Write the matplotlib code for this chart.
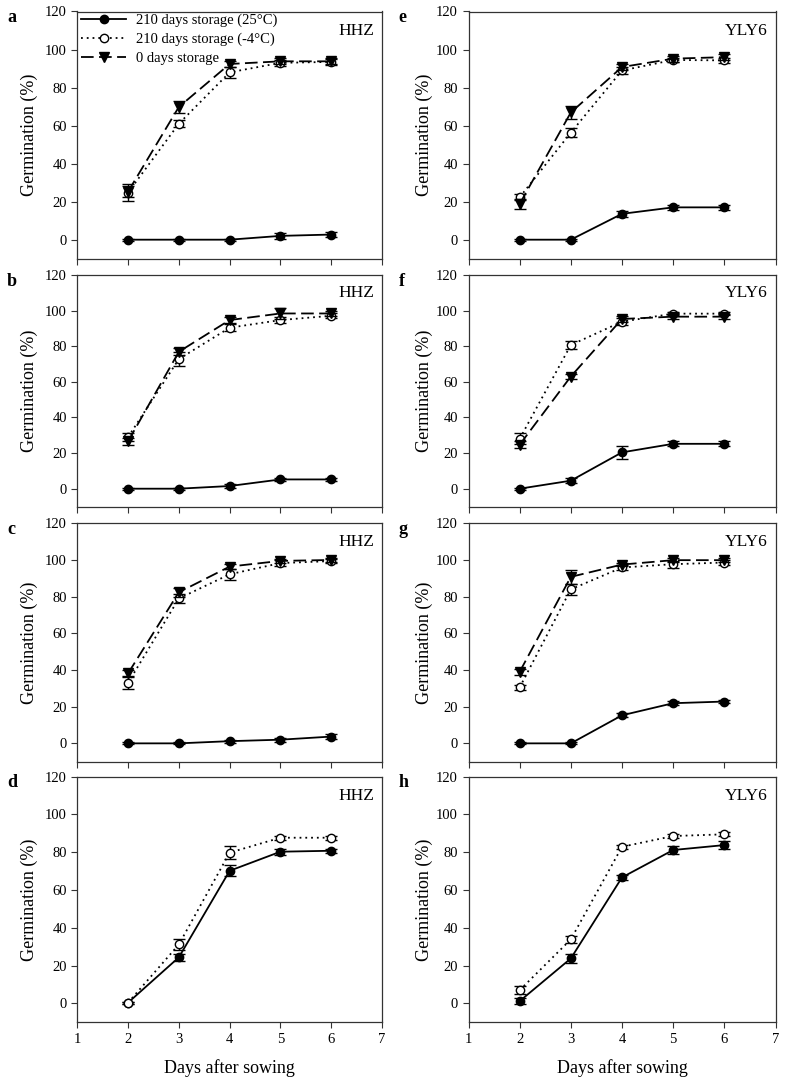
import matplotlib
matplotlib.use('Agg')
import matplotlib.pyplot as plt
from matplotlib.lines import Line2D

plt.rcParams['font.family'] = ['Liberation Serif', 'DejaVu Serif']

days = [2, 3, 4, 5, 6]
x_ticks = [1, 2, 3, 4, 5, 6, 7]
y_ticks = [0, 20, 40, 60, 80, 100, 120]
series_labels = ['210 days storage (25°C)', '210 days storage (-4°C)', '0 days storage']
panel_letters = ['a', 'b', 'c', 'd', 'e', 'f', 'g', 'h']
cultivars = ['HHZ', 'HHZ', 'HHZ', 'HHZ', 'YLY6', 'YLY6', 'YLY6', 'YLY6']

# 210 days storage (25°C)
s25 = {
    'a': [0, 0, 0, 2.0, 2.7], 'b': [0, 0, 1.5, 5.2, 5.2],
    'c': [0, 0, 1.2, 2.0, 3.7], 'd': [0.4, 24.4, 70.2, 80.3, 80.8],
    'e': [0, 0, 13.6, 17.0, 17.0], 'f': [0, 4.5, 20.4, 25.2, 25.2],
    'g': [0, 0, 15.3, 21.9, 22.8], 'h': [1.2, 23.8, 66.7, 81.2, 83.8],
}
s25_err = {
    'a': [0.5, 0.5, 0.5, 1.5, 1.2], 'b': [0.5, 0.5, 1.0, 1.0, 1.0],
    'c': [0.5, 0.5, 0.8, 1.0, 1.5], 'd': [0.5, 2.0, 3.0, 1.5, 1.0],
    'e': [0.5, 0.5, 1.5, 1.5, 1.5], 'f': [0.5, 1.5, 3.5, 1.5, 1.5],
    'g': [0.5, 0.5, 1.0, 1.0, 1.0], 'h': [1.5, 2.5, 1.5, 2.0, 2.0],
}
# 210 days storage (-4°C)
sm4 = {
    'a': [24.8, 61.0, 88.0, 93.0, 93.5], 'b': [29.0, 72.8, 90.4, 94.7, 97.1],
    'c': [33.0, 79.0, 92.2, 98.3, 99.4], 'd': [0.4, 31.2, 79.8, 87.7, 87.7],
    'e': [22.3, 56.3, 89.0, 94.5, 94.3], 'f': [28.0, 80.7, 93.8, 98.3, 98.3],
    'g': [30.5, 84.0, 95.9, 97.7, 98.6], 'h': [7.0, 33.9, 82.9, 88.6, 89.5],
}
sm4_err = {
    'a': [4.5, 2.0, 3.0, 1.5, 1.5], 'b': [2.0, 4.0, 2.0, 1.5, 1.5],
    'c': [3.5, 2.5, 3.0, 1.5, 1.0], 'd': [0.5, 3.0, 3.5, 1.0, 1.0],
    'e': [1.5, 2.5, 2.0, 1.0, 1.5], 'f': [3.0, 2.5, 2.0, 1.0, 1.0],
    'g': [1.5, 3.0, 1.5, 2.0, 1.5], 'h': [2.0, 2.0, 1.0, 1.0, 1.0],
}
# 0 days storage (not measured in d, h)
d0 = {
    'a': [25.3, 69.8, 92.4, 93.8, 93.8], 'b': [26.6, 76.9, 94.7, 98.4, 98.4],
    'c': [38.2, 82.4, 96.4, 99.5, 100.0],
    'e': [18.8, 66.9, 90.8, 95.2, 96.0], 'f': [24.7, 63.0, 95.3, 96.6, 96.6],
    'g': [39.0, 90.8, 97.5, 99.9, 99.9],
}
d0_err = {
    'a': [3.0, 3.0, 1.5, 1.5, 1.5], 'b': [2.0, 2.0, 1.5, 3.0, 1.5],
    'c': [2.0, 2.5, 1.5, 1.0, 1.0],
    'e': [2.5, 3.5, 1.5, 1.5, 1.5], 'f': [2.0, 1.5, 1.5, 1.5, 1.5],
    'g': [1.5, 4.0, 1.0, 1.0, 1.0],
}

W, H = 785, 1085
fig = plt.figure(figsize=(W / 100, H / 100), dpi=100)

col_x = [(77.3, 382.0), (468.5, 775.5)]
row_y = [(11.5, 258.7), (275.0, 506.5), (523.3, 761.7), (776.7, 1022.3)]

styles = [
    dict(ls='-', marker='o', ms=6, mfc='black'),
    dict(ls=(0, (1, 2.2)), marker='o', ms=6, mfc='white'),
    dict(ls=(0, (7, 3)), marker='v', ms=7, mfc='black'),
]

spine_col = '#333333'
for i, L in enumerate(panel_letters):
    c = i // 4
    r = i % 4
    x0, x1 = col_x[c]
    yt, yb = row_y[r]
    ax = fig.add_axes([x0 / W, 1 - yb / H, (x1 - x0) / W, (yb - yt) / H])

    data = [(s25[L], s25_err[L]), (sm4[L], sm4_err[L])]
    if L in d0:
        data.append((d0[L], d0_err[L]))
    for k, (vals, errs) in enumerate(data):
        ax.errorbar(days, vals, yerr=errs, color='black', lw=1.3, mec='black',
                    capsize=4.5, elinewidth=1.0, capthick=1.0,
                    zorder=3 + k, **styles[k])

    ax.set_xlim(1, 7)
    ax.set_ylim(-10, 120)
    ax.set_xticks(x_ticks)
    ax.set_yticks(y_ticks)
    ax.tick_params(direction='out', length=4.5, width=0.8, color=spine_col,
                   labelsize=10.5, pad=3, top=False, right=False)
    if r < 3:
        ax.set_xticklabels([])
    for s in ax.spines.values():
        s.set_color(spine_col)
        s.set_linewidth(0.9)

    ax.text(0.975, 0.955, cultivars[i], transform=ax.transAxes,
            ha='right', va='top', fontsize=12.5)

    # panel letter
    fig.text((7 if c == 0 else 398.5) / W, 1 - (yt + 10.5) / H, L,
             ha='left', va='baseline', fontsize=13, fontweight='bold')
    # y label
    fig.text((29 if c == 0 else 424) / W, 1 - (yt + yb) / 2 / H, 'Germination (%)',
             ha='center', va='center', rotation=90, fontsize=13)

    if L == 'a':
        handles = [Line2D([], [], color='black', lw=1.3, mec='black', **st)
                   for st in styles]
        ax.legend(handles, series_labels, loc='upper left',
                  bbox_to_anchor=(0.012, 0.992), frameon=False,
                  fontsize=10.5, handlelength=3.1, handletextpad=0.7,
                  labelspacing=0.38, borderpad=0, borderaxespad=0)

for c in range(2):
    x0, x1 = col_x[c]
    fig.text((x0 + x1) / 2 / W, 1 - 1068 / H, 'Days after sowing',
             ha='center', va='center', fontsize=13)

fig.savefig('out.png', dpi=100)
